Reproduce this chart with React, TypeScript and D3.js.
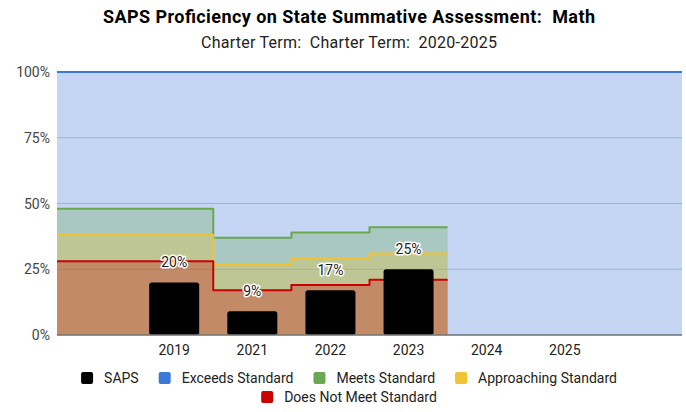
import React, { useMemo } from "react";
import * as d3 from "d3";

const categories = ["", "2019", "2021", "2022", "2023", "2024", "2025", ""];
const sapsValues: (number | null)[] = [null, 20, 9, 17, 25, null, null, null];
const doesNotMeetLevel: (number | null)[] = [28, 28, 17, 19, 21, null, null, null];
const approachingLevel: (number | null)[] = [38, 38, 27, 29, 31, null, null, null];
const meetsLevel: (number | null)[] = [48, 48, 37, 39, 41, null, null, null];
const exceedsLevel: (number | null)[] = [100, 100, 100, 100, 100, 100, 100, 100];
const yTicks = [0, 25, 50, 75, 100];

const legendItems = [
  { label: "SAPS", color: "#000000" },
  { label: "Exceeds Standard", color: "#3c78d8" },
  { label: "Meets Standard", color: "#6aa84f" },
  { label: "Approaching Standard", color: "#f1c232" },
  { label: "Does Not Meet Standard", color: "#cc0000" },
];

const W = 686;
const H = 412;
const M = { left: 57, right: 4, top: 72, bottom: 77 };
const FONT = "Roboto, 'Noto Sans', sans-serif";

function measure(text: string, size: number): number {
  const c = document.createElement("canvas").getContext("2d");
  if (!c) return text.length * size * 0.55;
  c.font = `${size}px Roboto`;
  return c.measureText(text).width;
}

export default function App() {
  const x = d3
    .scaleBand<number>()
    .domain(categories.map((_, i) => i))
    .range([M.left, W - M.right])
    .paddingInner(0)
    .paddingOuter(0);
  const y = d3.scaleLinear().domain([0, 100]).range([H - M.bottom, M.top]);
  const bw = x.bandwidth();

  const stepPoints = (vals: (number | null)[]) => {
    const pts: [number, number][] = [];
    vals.forEach((v, i) => {
      if (v == null) return;
      const x0 = x(i) as number;
      pts.push([x0, v], [x0 + bw, v]);
    });
    return pts;
  };

  const area = d3
    .area<[number, number]>()
    .x((d) => d[0])
    .y0(y(0))
    .y1((d) => y(d[1]));
  const line = d3
    .line<[number, number]>()
    .x((d) => d[0])
    .y((d) => y(d[1]));

  const series = [
    { vals: exceedsLevel, color: "#3c78d8" },
    { vals: meetsLevel, color: "#6aa84f" },
    { vals: approachingLevel, color: "#f1c232" },
    { vals: doesNotMeetLevel, color: "#cc0000" },
  ];

  const legendRows = useMemo(() => {
    const rows = [legendItems.slice(0, 4), legendItems.slice(4)];
    return rows.map((row) => {
      const widths = row.map((it) => 12 + 11 + measure(it.label, 14));
      const gap = 20;
      const total = widths.reduce((a, b) => a + b, 0) + gap * (row.length - 1);
      let cx = 349 - total / 2;
      return row.map((it, i) => {
        const pos = cx;
        cx += widths[i] + gap;
        return { ...it, x: pos };
      });
    });
  }, []);

  const barW = bw * 0.64;

  return (
    <svg
      width={W}
      height={H}
      style={{ position: "absolute", left: 0, top: 0, background: "#fff" }}
      fontFamily={FONT}
    >
      <text
        x={349}
        y={23}
        textAnchor="middle"
        fontSize={18}
        fontWeight="bold"
        fill="#000"
        textLength={492}
        lengthAdjust="spacing"
        style={{ whiteSpace: "pre" }}
      >
        SAPS Proficiency on State Summative Assessment:  Math
      </text>
      <text
        x={349}
        y={48}
        textAnchor="middle"
        fontSize={16}
        fill="#222"
        textLength={296}
        lengthAdjust="spacing"
        style={{ whiteSpace: "pre" }}
      >
        Charter Term:  Charter Term:  2020-2025
      </text>

      {yTicks.map((t) => (
        <g key={t}>
          <line x1={M.left} x2={W - M.right} y1={y(t)} y2={y(t)} stroke="#cccccc" strokeWidth={1} />
          <text x={50} y={y(t) + 5} textAnchor="end" fontSize={14} fill="#444">
            {t}%
          </text>
        </g>
      ))}

      {series.map((s, i) => (
        <path key={"a" + i} d={area(stepPoints(s.vals)) || ""} fill={s.color} fillOpacity={0.3} />
      ))}
      {series.map((s, i) => (
        <path
          key={"l" + i}
          d={line(stepPoints(s.vals)) || ""}
          fill="none"
          stroke={s.color}
          strokeWidth={2}
          strokeLinejoin="round"
        />
      ))}

      {sapsValues.map((v, i) =>
        v == null ? null : (
          <rect
            key={"b" + i}
            x={(x(i) as number) + (bw - barW) / 2}
            y={y(v)}
            width={barW}
            height={y(0) - y(v)}
            rx={2.5}
            fill="#000"
          />
        )
      )}

      <line x1={M.left} x2={W - M.right} y1={y(0)} y2={y(0)} stroke="#777" strokeWidth={1.5} />

      {sapsValues.map((v, i) =>
        v == null ? null : (
          <text
            key={"t" + i}
            x={(x(i) as number) + bw / 2}
            y={y(v) - 15}
            textAnchor="middle"
            fontSize={14}
            fill="#222"
            stroke="#fff"
            strokeWidth={3}
            strokeLinejoin="round"
            style={{ paintOrder: "stroke" }}
          >
            {v}%
          </text>
        )
      )}

      {categories.map((c, i) =>
        c ? (
          <text key={"x" + i} x={(x(i) as number) + bw / 2} y={355} textAnchor="middle" fontSize={14} fill="#222">
            {c}
          </text>
        ) : null
      )}

      {legendRows.map((row, r) =>
        row.map((it) => (
          <g key={it.label}>
            <rect x={it.x} y={372 + r * 19} width={12} height={12} rx={2} fill={it.color} />
            <text x={it.x + 23} y={383 + r * 19} fontSize={14} fill="#222">
              {it.label}
            </text>
          </g>
        ))
      )}
    </svg>
  );
}
